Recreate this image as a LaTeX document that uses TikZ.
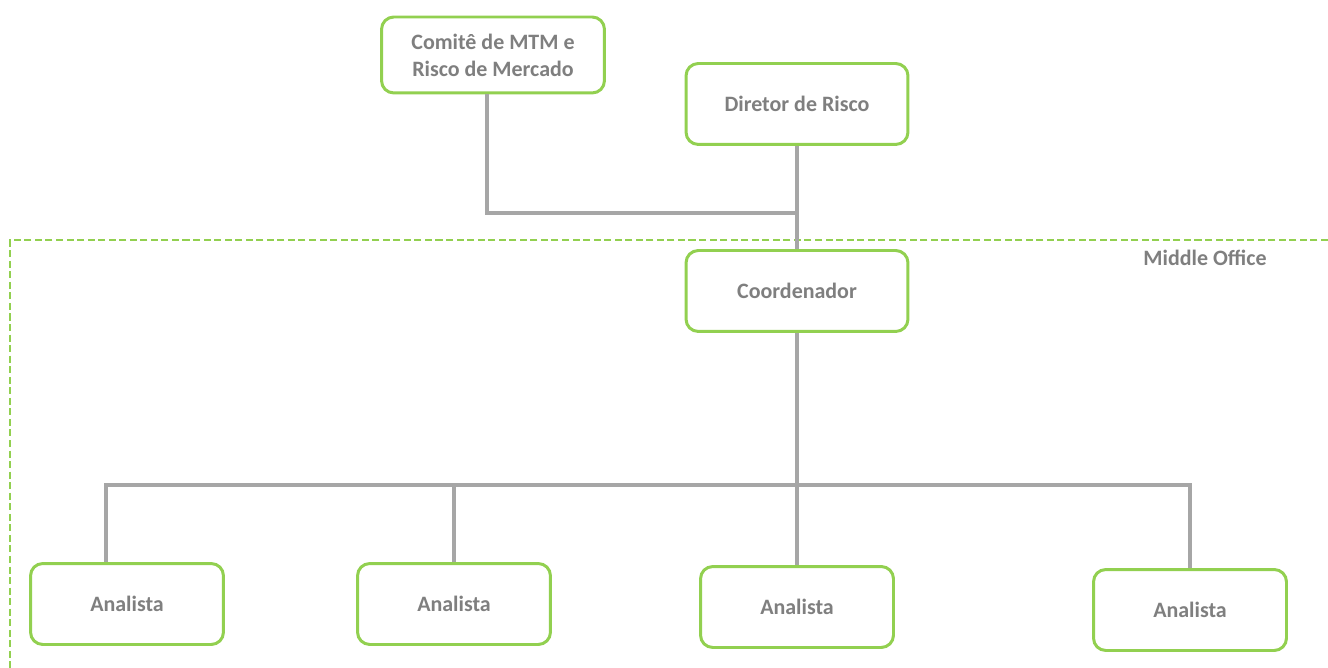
\documentclass[tikz,border=0pt]{standalone}
\usepackage{fontspec}
\setmainfont{Carlito}
\definecolor{verde}{HTML}{92D050}
\definecolor{cinza}{HTML}{7F7F7F}
\definecolor{linha}{HTML}{A6A6A6}
\tikzset{
  caixa/.style = {draw=verde, line width=1.7pt, rounded corners=7pt,
    fill=white, align=center, inner sep=0pt, text=cinza,
    font=\fontsize{12.5}{15.3}\selectfont\bfseries},
  cx_larga/.style = {caixa, minimum width=4.44cm, minimum height=1.62cm},% diretor, coordenador
  cx_analista/.style = {caixa, minimum width=3.86cm, minimum height=1.62cm},% analistas
  ligacao/.style = {draw=linha, line width=1.9pt},
  area/.style = {draw=verde, line width=1.1pt, dash pattern=on 4pt off 2pt}
}
\begin{document}
\begin{tikzpicture}[x=0.02cm, y=-0.02cm]
\useasboundingbox (0,0) rectangle (1328,668);
% area do middle office
\draw[area] (1328,240) -- (10,240) -- (10,668);
\node[text=cinza, font=\fontsize{12.5}{15.3}\selectfont\bfseries] (mo) at (1205,258) {Middle Office};
% caixas
\node[caixa, minimum width=4.46cm, minimum height=1.52cm] (comite) at (493,55) {Comitê de MTM e\\Risco de Mercado};
\node[cx_larga] (diretor) at (797,104) {Diretor de Risco};
\node[cx_larga] (coord) at (797,291) {Coordenador};
\node[cx_analista] (an1) at (127,604) {Analista};
\node[cx_analista] (an2) at (454,604) {Analista};
\node[cx_analista] (an3) at (797,607) {Analista};
\node[cx_analista] (an4) at (1190,610) {Analista};
% ligacoes
\coordinate (juncao) at (797,213);
\coordinate (barra) at (797,485);
\draw[ligacao] ([xshift=-3.5pt]comite.south) |- (juncao);
\draw[ligacao] (diretor) -- (coord);
\draw[ligacao] (coord) -- (an3);
\draw[ligacao] ([xshift=-12pt]an1.north) |- (barra);
\draw[ligacao] (an2.north) |- (barra);
\draw[ligacao] (an4.north) |- (barra);
\end{tikzpicture}
\end{document}
